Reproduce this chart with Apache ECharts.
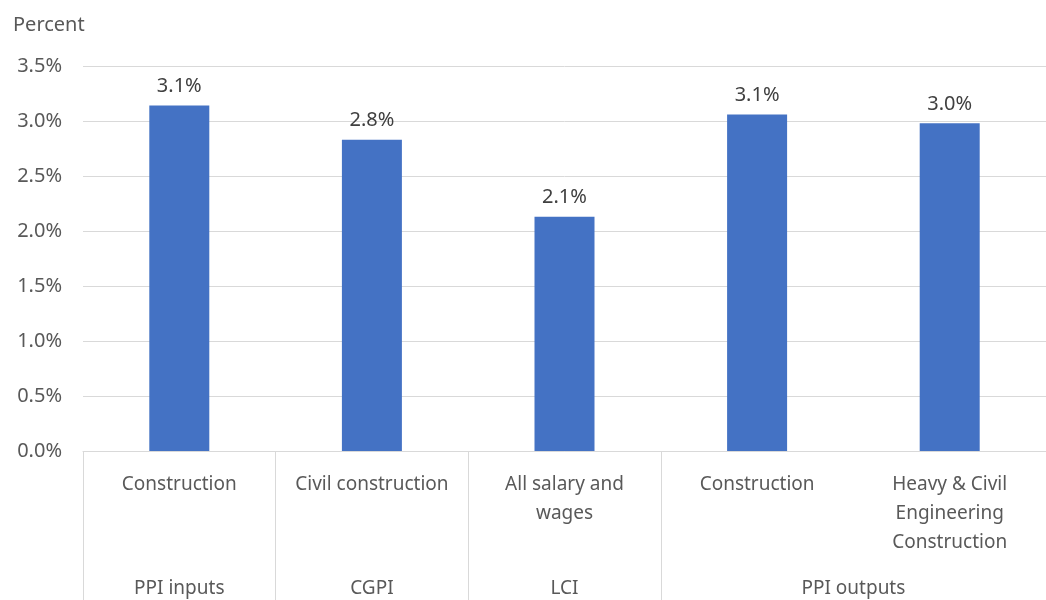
<!DOCTYPE html>
<html><head><meta charset="utf-8">
<script src="https://cdn.jsdelivr.net/npm/echarts@6/dist/echarts.min.js"></script>
<style>html,body{margin:0;padding:0;background:#fff}#c{width:1046px;height:600px}</style>
</head><body><div id="c"></div>
<script>
const categories = ['Construction', 'Civil construction', 'All salary and\nwages', 'Construction', 'Heavy & Civil\nEngineering\nConstruction'];
const values = [3.14, 2.83, 2.13, 3.06, 2.98];
const groupNames = ['PPI inputs', 'CGPI', 'LCI', 'PPI outputs'];
const groupSizes = [1, 1, 1, 2];
const yTicks = [0, 0.5, 1, 1.5, 2, 2.5, 3, 3.5];

const bounds = [0];
groupSizes.forEach(s => bounds.push(bounds[bounds.length - 1] + s));
const centers = groupSizes.map((s, i) => bounds[i] + s / 2);
const FONT = 'Noto Sans';
const chart = echarts.init(document.getElementById('c'));
chart.setOption({
  animation: false,
  textStyle: { fontFamily: FONT },
  title: { text: 'Percent', left: 8, top: 10, textStyle: { fontFamily: FONT, fontSize: 20, fontWeight: 'normal', color: '#595959' } },
  grid: { left: 83, right: 0, top: 66, bottom: 149 },
  xAxis: [{
    type: 'category', data: categories,
    axisLine: { lineStyle: { color: '#d9d9d9' } },
    axisTick: { show: false },
    axisLabel: { interval: 0, margin: 19, fontSize: 19, lineHeight: 29, color: '#595959', fontFamily: FONT }
  }, {
    type: 'value', min: 0, max: bounds[bounds.length - 1], position: 'bottom',
    axisLine: { show: false }, splitLine: { show: false },
    axisTick: { show: true, customValues: bounds, length: 149, lineStyle: { color: '#d9d9d9' } },
    axisLabel: { customValues: centers, margin: 128, fontSize: 19, color: '#595959', fontFamily: FONT,
      formatter: v => { const i = centers.findIndex(c => Math.abs(c - v) < 1e-6); return i >= 0 ? groupNames[i] : ''; } }
  }],
  yAxis: {
    type: 'value', min: yTicks[0], max: yTicks[yTicks.length - 1], interval: yTicks[1] - yTicks[0],
    axisLine: { show: false }, axisTick: { show: false },
    splitLine: { lineStyle: { color: '#d9d9d9' } },
    axisLabel: { margin: 21, fontSize: 20, color: '#595959', fontFamily: FONT, formatter: v => v.toFixed(1) + '%' }
  },
  series: [{
    type: 'bar', data: values, barWidth: 60, xAxisIndex: 0,
    itemStyle: { color: '#4472C4' },
    label: { show: true, position: 'top', distance: 9, fontSize: 20, color: '#404040', fontFamily: FONT, formatter: p => p.value.toFixed(1) + '%' }
  }]
});
</script></body></html>
